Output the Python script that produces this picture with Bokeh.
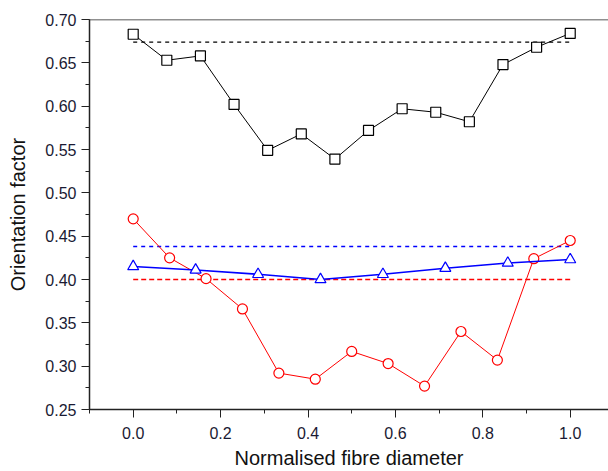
from bokeh.plotting import figure
from bokeh.models import (Range1d, SingleIntervalTicker, NumeralTickFormatter, Span)
from bokeh.embed import file_html
from bokeh.resources import INLINE

# ---- data ----
black_x = [i / 13 for i in range(14)]
black_y = [0.683, 0.653, 0.658, 0.602, 0.549, 0.568, 0.539, 0.572, 0.597,
           0.593, 0.582, 0.648, 0.668, 0.684]
red_x = [i / 12 for i in range(13)]
red_y = [0.470, 0.425, 0.401, 0.366, 0.292, 0.285, 0.317, 0.303, 0.277,
         0.340, 0.307, 0.424, 0.445]
blue_x = [i / 7 for i in range(8)]
blue_y = [0.415, 0.411, 0.406, 0.400, 0.406, 0.413, 0.419, 0.423]
ref_x = [0.0, 1.0]
black_ref = 0.674
blue_ref = 0.438
red_ref = 0.400

FONT = "Liberation Sans"

p = figure(width=608, height=471, output_backend="svg", toolbar_location=None,
           x_range=Range1d(-0.1, 1.0876), y_range=Range1d(0.25, 0.70001),
           x_axis_label="Normalised fibre diameter",
           y_axis_label="Orientation factor",
           min_border_left=89, min_border_right=0, min_border_top=19,
           min_border_bottom=0)
p.grid.visible = False
p.outline_line_color = None
p.background_fill_color = "white"
p.border_fill_color = "white"

xb = p.below[0]
yl = p.left[0]

# top frame line
p.add_layout(Span(location=0.70001, dimension="width", line_color="#222222",
                  line_width=1.5))

xb.ticker = SingleIntervalTicker(interval=0.2, num_minor_ticks=2)
yl.ticker = SingleIntervalTicker(interval=0.05, num_minor_ticks=2)
xb.formatter = NumeralTickFormatter(format="0.0")
yl.formatter = NumeralTickFormatter(format="0.00")

for ax in (xb, yl):
    ax.axis_line_color = "#222222"
    ax.axis_line_width = 1.5
    ax.major_tick_line_color = "#222222"
    ax.minor_tick_line_color = "#222222"
    ax.major_tick_out = 8
    ax.major_tick_in = 0
    ax.minor_tick_out = 4
    ax.minor_tick_in = 0
    ax.major_label_text_font = FONT
    ax.major_label_text_font_size = "16px"
    ax.major_label_text_color = "#1a1a33"
    ax.major_label_standoff = 5
    ax.axis_label_text_font = FONT
    ax.axis_label_text_font_size = "20px"
    ax.axis_label_text_font_style = "normal"
    ax.axis_label_text_color = "#111111"
xb.major_label_standoff = 9
xb.axis_label_standoff = 5
yl.axis_label_standoff = 13

# reference dashed lines
p.line(ref_x, [black_ref] * 2, line_color="black", line_width=1.2, line_dash="4 4")
p.line(ref_x, [blue_ref] * 2, line_color="#0000FF", line_width=1.5, line_dash="4 4")
p.line(ref_x, [red_ref] * 2, line_color="#FF0000", line_width=1.5, line_dash="5 3")

# series
p.line(black_x, black_y, line_color="black", line_width=1)
p.scatter(black_x, black_y, marker="square", size=10, fill_color="white",
          line_color="black", line_width=1.2)

p.line(red_x, red_y, line_color="#FF0000", line_width=1)
p.scatter(red_x, red_y, marker="circle", size=10, fill_color="white",
          line_color="#FF0000", line_width=1.2)

p.line(blue_x, blue_y, line_color="#0000FF", line_width=1.6)
p.scatter(blue_x, blue_y, marker="triangle", size=11, fill_color="white",
          line_color="#0000FF", line_width=1.2)

open("out.html", "w").write(file_html(p, INLINE))
